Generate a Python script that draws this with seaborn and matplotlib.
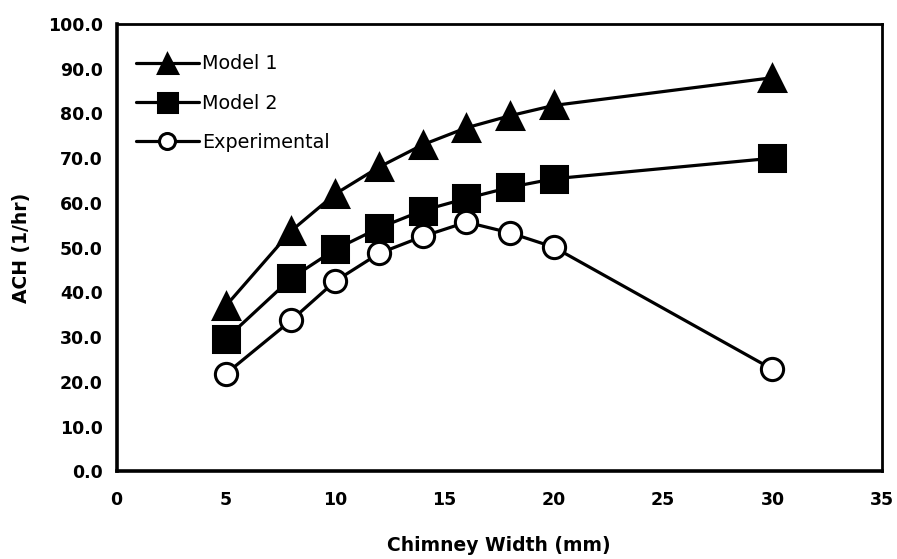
import matplotlib
matplotlib.use("Agg")
import matplotlib.pyplot as plt
from matplotlib.ticker import FormatStrFormatter
import seaborn as sns
import pandas as pd

# Chimney widths (mm) and air changes per hour for each series
widths = [5, 8, 10, 12, 14, 16, 18, 20, 30]
model1 = [37.0, 53.8, 62.0, 68.0, 73.0, 76.8, 79.5, 81.8, 88.0]
model2 = [29.6, 43.2, 49.6, 54.4, 58.3, 61.0, 63.5, 65.4, 70.0]
experimental = [21.8, 33.8, 42.5, 48.7, 52.5, 55.7, 53.3, 50.1, 22.8]

series_names = ["Model 1", "Model 2", "Experimental"]
x_ticks = [0, 5, 10, 15, 20, 25, 30, 35]
y_ticks = [0, 10, 20, 30, 40, 50, 60, 70, 80, 90, 100]

df = pd.concat([
    pd.DataFrame({"width": widths, "ach": vals, "series": name})
    for name, vals in zip(series_names, [model1, model2, experimental])
], ignore_index=True)

sns.set_theme(style="white")
plt.rcParams["font.family"] = ["DejaVu Sans"]
plt.rcParams["text.color"] = "black"
plt.rcParams["axes.labelcolor"] = "black"

fig = plt.figure(figsize=(8.97, 5.59), dpi=100)
ax = fig.add_axes([0.130, 0.157, 0.853, 0.800])

markers = {"Model 1": "^", "Model 2": "s", "Experimental": "o"}
palette = {n: "black" for n in series_names}

sns.lineplot(data=df, x="width", y="ach", hue="series", style="series",
             markers=markers, dashes=False, palette=palette,
             hue_order=series_names, style_order=series_names,
             linewidth=2.3, markersize=19, markeredgewidth=2.2,
             ax=ax, legend=False)

# open circles for the measured series
for line in ax.lines:
    if line.get_marker() == "o":
        line.set_markerfacecolor("white")
        line.set_markeredgecolor("black")
        line.set_markersize(16)
    else:
        line.set_markerfacecolor("black")
        line.set_markeredgecolor("black")

# legend drawn from the plotted lines
handles = ax.lines[:3]
leg = ax.legend(handles, series_names, loc="upper left", frameon=False,
                prop={"family": "DejaVu Sans", "size": 13.8},
                markerscale=0.72, handlelength=3.3,
                handletextpad=0.15, labelspacing=1.05,
                bbox_to_anchor=(0.0, 0.975), borderaxespad=0.6,
                labelcolor="black")

ax.set_xlim(0, 35)
ax.set_ylim(0, 100)
ax.set_xticks(x_ticks)
ax.set_yticks(y_ticks)
ax.yaxis.set_major_formatter(FormatStrFormatter("%.1f"))

for s in ax.spines.values():
    s.set_visible(True)
    s.set_color("black")
ax.spines["left"].set_linewidth(2.6)
ax.spines["bottom"].set_linewidth(2.6)
ax.spines["top"].set_linewidth(2.0)
ax.spines["right"].set_linewidth(2.0)

ax.tick_params(axis="both", which="major", direction="out", length=3,
               width=0.8, color="black", labelsize=12.5, labelcolor="black")
ax.tick_params(axis="y", pad=7)
ax.tick_params(axis="x", pad=11)
for lab in ax.get_xticklabels() + ax.get_yticklabels():
    lab.set_fontweight("bold")

ax.set_xlabel("Chimney Width (mm)", fontsize=13.5, fontweight="bold",
              labelpad=20, color="black")
ax.set_ylabel("ACH (1/hr)", fontsize=13.5, fontweight="bold",
              labelpad=12, color="black")
ax.grid(False)
ax.set_facecolor("white")
fig.patch.set_facecolor("white")

fig.savefig("out.png", dpi=100, facecolor="white")
